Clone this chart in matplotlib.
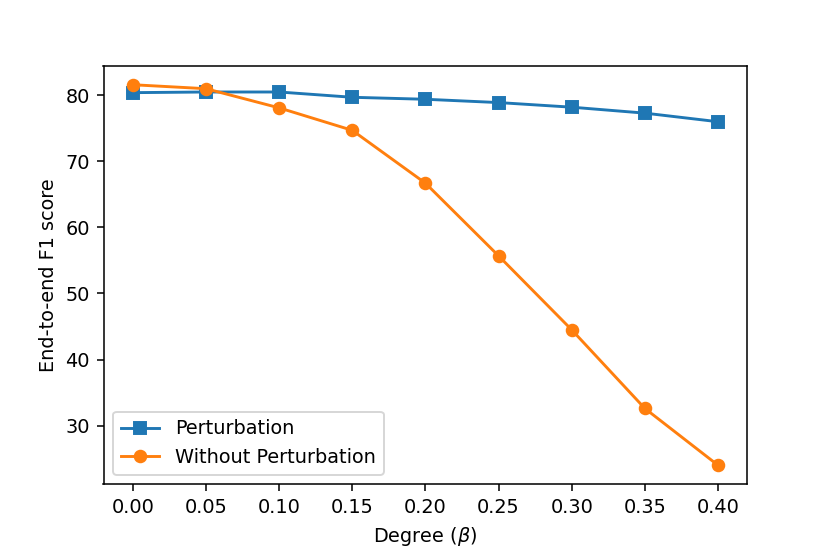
import matplotlib
matplotlib.use("Agg")
import matplotlib.pyplot as plt

degree = [0.00, 0.05, 0.10, 0.15, 0.20, 0.25, 0.30, 0.35, 0.40]
perturbation = [80.4, 80.5, 80.5, 79.7, 79.4, 78.9, 78.2, 77.3, 76.0]
without_perturbation = [81.6, 81.0, 78.1, 74.7, 66.7, 55.7, 44.5, 32.6, 24.0]

dpi = 139
fig = plt.figure(figsize=(830 / dpi, 554 / dpi), dpi=dpi)
ax = fig.add_axes([103.5 / 830, 1 - 484.3 / 554, (747.3 - 103.5) / 830, (484.3 - 65.7) / 554])

ax.plot(degree, perturbation, marker="s", label="Perturbation")
ax.plot(degree, without_perturbation, marker="o", label="Without Perturbation")
ax.set_xticks(degree)
ax.set_xticklabels([f"{d:.2f}" for d in degree])
ax.set_xlabel(r"Degree ($\beta$)")
ax.set_ylabel("End-to-end F1 score")
ax.legend(loc="lower left")

fig.savefig("out.png", dpi=dpi)
